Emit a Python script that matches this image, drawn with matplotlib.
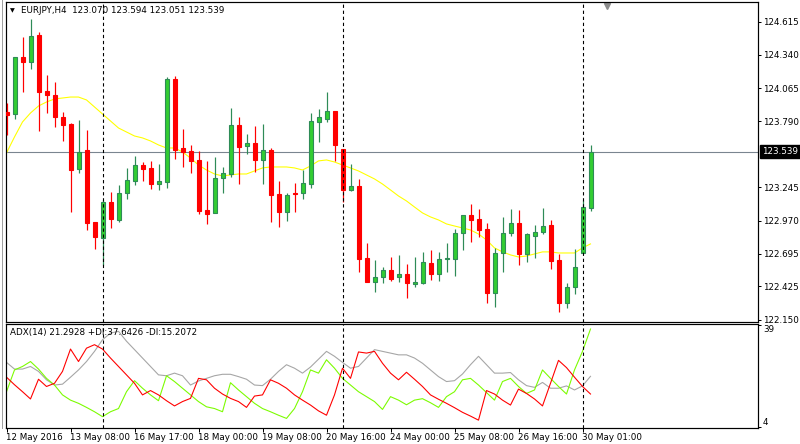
import numpy as np
import matplotlib
import matplotlib.pyplot as plt
import matplotlib.transforms as mtransforms
from matplotlib.lines import Line2D

matplotlib.use('Agg')

# EURJPY H4 candles
opens = [123.865, 123.848, 124.322, 124.283, 124.504, 124.043, 124.008, 123.829, 123.768, 123.394,
         123.553, 122.961, 122.829, 123.124, 122.977, 123.196, 123.300, 123.429, 123.402, 123.275,
         123.291, 124.140, 123.570, 123.545, 123.471, 123.058, 123.035, 123.320, 123.358, 123.758,
         123.589, 123.611, 123.473, 123.553, 123.190, 123.044, 123.201, 123.196, 123.275, 123.787,
         123.812, 123.876, 123.562, 123.225, 123.256, 122.663, 122.465, 122.501, 122.562, 122.501,
         122.529, 122.449, 122.457, 122.620, 122.531, 122.650, 122.655, 122.865, 123.016, 122.983,
         122.901, 122.374, 122.700, 122.865, 122.950, 122.696, 122.840, 122.873, 122.931, 122.642,
         122.287, 122.419, 122.705, 123.070]
highs = [123.939, 124.319, 124.490, 124.636, 124.529, 124.173, 124.118, 123.865, 123.779, 123.801,
         123.719, 122.961, 123.140, 123.209, 123.264, 123.407, 123.506, 123.452, 123.463, 123.438,
         124.159, 124.165, 123.727, 123.595, 123.545, 123.463, 123.496, 123.413, 123.903, 123.826,
         123.686, 123.752, 123.768, 123.570, 123.297, 123.198, 123.281, 123.388, 123.859, 123.892,
         124.033, 123.876, 123.562, 123.438, 123.314, 122.782, 122.644, 122.587, 122.669, 122.686,
         122.614, 122.669, 122.711, 122.727, 122.713, 122.785, 122.901, 123.016, 123.107, 123.066,
         122.953, 122.741, 123.000, 123.066, 123.058, 122.865, 122.934, 123.072, 122.975, 122.696,
         122.452, 122.735, 123.138, 123.594]
lows = [123.677, 123.810, 124.035, 124.223, 123.713, 123.857, 123.746, 123.630, 123.044, 123.361,
        122.892, 122.733, 122.603, 122.911, 122.961, 123.149, 123.264, 123.297, 123.231, 123.223,
        123.242, 123.477, 123.415, 123.363, 123.027, 122.944, 123.030, 123.201, 123.333, 123.275,
        123.520, 123.372, 123.275, 122.961, 122.920, 122.969, 123.044, 123.149, 123.242, 123.622,
        123.785, 123.463, 123.126, 123.215, 122.548, 122.465, 122.382, 122.457, 122.473, 122.465,
        122.333, 122.424, 122.444, 122.482, 122.473, 122.548, 122.515, 122.730, 122.796, 122.837,
        122.287, 122.254, 122.548, 122.845, 122.603, 122.630, 122.663, 122.862, 122.573, 122.212,
        122.245, 122.366, 122.705, 123.051]
closes = [123.845, 124.319, 124.283, 124.496, 124.035, 124.008, 123.824, 123.760, 123.388, 123.539,
          122.953, 122.837, 123.121, 122.983, 123.198, 123.306, 123.429, 123.399, 123.275, 123.297,
          124.140, 123.556, 123.539, 123.465, 123.049, 123.027, 123.320, 123.361, 123.758, 123.581,
          123.611, 123.473, 123.551, 123.184, 123.044, 123.179, 123.192, 123.281, 123.791, 123.826,
          123.876, 123.597, 123.225, 123.256, 122.655, 122.465, 122.504, 122.562, 122.490, 122.529,
          122.457, 122.463, 122.625, 122.531, 122.653, 122.663, 122.865, 123.016, 122.977, 122.895,
          122.374, 122.700, 122.865, 122.948, 122.696, 122.857, 122.873, 122.923, 122.639, 122.287,
          122.419, 122.584, 123.080, 123.539]
ma = [123.529, 123.661, 123.785, 123.859, 123.917, 123.950, 123.975, 123.983, 123.991, 123.991,
      123.967, 123.909, 123.851, 123.793, 123.735, 123.702, 123.669, 123.653, 123.628, 123.595,
      123.570, 123.570, 123.537, 123.487, 123.429, 123.388, 123.355, 123.339, 123.347, 123.355,
      123.355, 123.380, 123.405, 123.413, 123.413, 123.413, 123.405, 123.388, 123.421, 123.463,
      123.471, 123.454, 123.429, 123.405, 123.380, 123.347, 123.314, 123.272, 123.223, 123.173,
      123.132, 123.082, 123.033, 123.000, 122.975, 122.942, 122.925, 122.909, 122.892, 122.859,
      122.810, 122.744, 122.711, 122.686, 122.669, 122.677, 122.694, 122.711, 122.711, 122.702,
      122.702, 122.702, 122.744, 122.777]

# ADX(14) panel
adx = [26.1, 23.8, 23.8, 24.7, 23.0, 20.1, 18.3, 18.6, 21.0, 23.5,
       26.4, 29.9, 33.9, 36.2, 36.8, 33.4, 30.5, 27.6, 24.7, 21.8,
       21.5, 22.4, 21.5, 18.3, 19.7, 20.6, 21.5, 22.0, 22.0, 21.2,
       20.3, 18.3, 18.1, 20.3, 23.0, 25.3, 24.1, 22.4, 24.5, 27.2,
       29.9, 28.2, 26.1, 24.1, 24.7, 27.6, 30.5, 29.9, 29.3, 28.7,
       28.7, 27.6, 25.8, 23.5, 21.2, 19.5, 19.8, 22.1, 25.3, 28.2,
       25.3, 22.4, 22.4, 22.6, 20.1, 18.1, 17.5, 19.2, 17.2, 17.2,
       18.0, 16.6, 18.0, 21.3]
plus_di = [16.0, 23.5, 24.7, 26.4, 23.8, 20.6, 18.3, 14.9, 13.1, 12.0,
           10.6, 9.1, 7.4, 9.1, 10.2, 16.0, 19.8, 17.2, 14.9, 12.9,
           21.5, 19.5, 17.2, 14.9, 12.6, 10.8, 10.2, 9.1, 19.1, 16.6,
           14.3, 12.0, 10.2, 9.1, 7.9, 6.8, 10.2, 16.0, 23.5, 22.4,
           27.0, 24.1, 20.6, 18.3, 16.0, 14.3, 12.6, 9.9, 14.3, 13.1,
           11.5, 13.1, 13.6, 12.2, 10.6, 14.3, 16.0, 20.1, 20.6, 18.3,
           15.7, 13.1, 19.5, 20.6, 17.8, 15.4, 16.6, 23.5, 20.6, 17.8,
           15.2, 23.5, 29.9, 37.6]
minus_di = [21.0, 18.4, 16.0, 13.5, 20.3, 17.8, 18.9, 23.0, 30.7, 26.4,
            31.0, 32.2, 30.7, 27.6, 24.7, 21.8, 18.9, 14.9, 16.4, 14.9,
            12.9, 11.1, 12.6, 13.7, 20.6, 20.1, 17.2, 15.2, 13.7, 12.6,
            10.6, 14.5, 14.9, 20.1, 18.9, 17.2, 14.9, 13.1, 11.4, 9.4,
            7.9, 14.9, 24.1, 20.6, 29.7, 29.3, 29.9, 25.8, 22.4, 20.1,
            22.7, 20.3, 17.8, 14.9, 13.4, 12.0, 10.5, 8.9, 7.6, 6.2,
            16.4, 15.2, 13.1, 11.4, 16.9, 15.4, 13.5, 11.1, 18.9, 26.8,
            24.3, 21.0, 17.8, 15.2]

time_labels = ['12 May 2016', '13 May 08:00', '16 May 17:00', '18 May 00:00', '19 May 08:00',
               '20 May 16:00', '24 May 00:00', '25 May 08:00', '26 May 16:00', '30 May 01:00']
label_step = 8
separators = [12, 42, 72]
price_ticks = [124.615, 124.340, 124.065, 123.790, 123.245, 122.970, 122.695, 122.425, 122.150]
last_price = 123.539
header = 'EURJPY,H4  123.070 123.594 123.051 123.539'
adx_header = 'ADX(14) 21.2928 +DI:37.6426 -DI:15.2072'

plt.rcParams['font.family'] = ['DejaVu Sans']
FS = 6.3
PX = 0.72  # one pixel in points

W, H = 800, 444
fig = plt.figure(figsize=(8, 4.44), dpi=100)
fig.patch.set_facecolor('white')


def box(x0, y0, x1, y1):
    return [x0 / W, 1 - y1 / H, (x1 - x0) / W, (y1 - y0) / H]


ax = fig.add_axes(box(5.5, 1.7, 758, 321.7))
ax2 = fig.add_axes(box(5.5, 323.5, 758, 427.7))

o = np.array(opens)
c = np.array(closes)
idx = np.arange(len(c))
up = c >= o
wick_col = np.where(up, '#2e8b57', '#ff0000')
body_col = np.where(up, '#32cd32', '#ff0000')

ax.axhline(last_price, color='#7a8590', lw=1.1 * PX, zorder=1)
ax.plot(idx, ma, color='#ffff00', lw=1.1 * PX, zorder=2)
ax.vlines(idx, lows, highs, colors=wick_col, lw=1.2 * PX, zorder=3)
ax.bar(idx, np.abs(c - o), bottom=np.minimum(o, c), width=0.5,
       color=body_col, edgecolor=wick_col, linewidth=1.1 * PX, zorder=4)

ax2.plot(idx, adx, color='#a6a6a6', lw=1.1 * PX)
ax2.plot(idx, plus_di, color='#7cfc00', lw=1.1 * PX)
ax2.plot(idx, minus_di, color='#ff0000', lw=1.1 * PX)

xmin = -0.125
xmax = xmin + (758 - 5.5) / 8
for a in (ax, ax2):
    a.set_xlim(xmin, xmax)
    for s in a.spines.values():
        s.set_linewidth(1.2 * PX)
        s.set_color('black')
    for sep in separators:
        a.axvline(sep, color='black', lw=1.1 * PX, ls=(0, (3, 2.5)), zorder=5)

ax.set_ylim(122.134, 124.779)
ax.yaxis.tick_right()
ax.set_yticks(price_ticks)
ax.set_yticklabels([f'{p:.3f}' for p in price_ticks])
ax.tick_params(axis='y', direction='out', length=3 * PX, width=PX, pad=2 * PX,
               labelsize=FS, colors='black')
ax.set_xticks([])

# current price box
ax.annotate(f'{last_price:.3f}', xy=(1.0, last_price),
            xycoords=mtransforms.blended_transform_factory(ax.transAxes, ax.transData),
            xytext=(4 * PX, 0), textcoords='offset points', ha='left', va='center',
            fontsize=FS, color='white',
            bbox=dict(boxstyle='square,pad=0.25', fc='black', ec='black'))

# chart shift marker
ax.plot([len(c) + 1], [0.985], marker='v', color='#8c8c8c', markersize=5,
        transform=mtransforms.blended_transform_factory(ax.transData, ax.transAxes),
        clip_on=False)

ax2.set_ylim(3.6, 39.5)
ax2.yaxis.tick_right()
ax2.set_yticks([39, 4])
ax2.set_yticklabels(['39', '4'])
ax2.tick_params(axis='y', direction='out', length=3 * PX, width=PX, pad=2 * PX,
                labelsize=FS)
yl = ax2.get_yticklabels()
yl[0].set_va('top')
yl[1].set_va('bottom')
ax2.set_xticks(idx[::label_step][:len(time_labels)])
ax2.set_xticklabels(time_labels, ha='left')
ax2.tick_params(axis='x', direction='out', length=4 * PX, width=PX, pad=1.5 * PX,
                labelsize=FS)

fig.text(12.5 / W, 1 - 10.7 / H, '\u25bc', fontsize=4.5, va='center', ha='center')
fig.text(21 / W, 1 - 10.7 / H, header, fontsize=FS, va='center', ha='left')
fig.text(10 / W, 1 - 332.5 / H, adx_header, fontsize=FS, va='center', ha='left')
fig.add_artist(Line2D([1.5 / W, 1.5 / W], [1 - 428 / H, 1], color='#a0a0a0', lw=PX))

fig.savefig('out.png', dpi=100)
